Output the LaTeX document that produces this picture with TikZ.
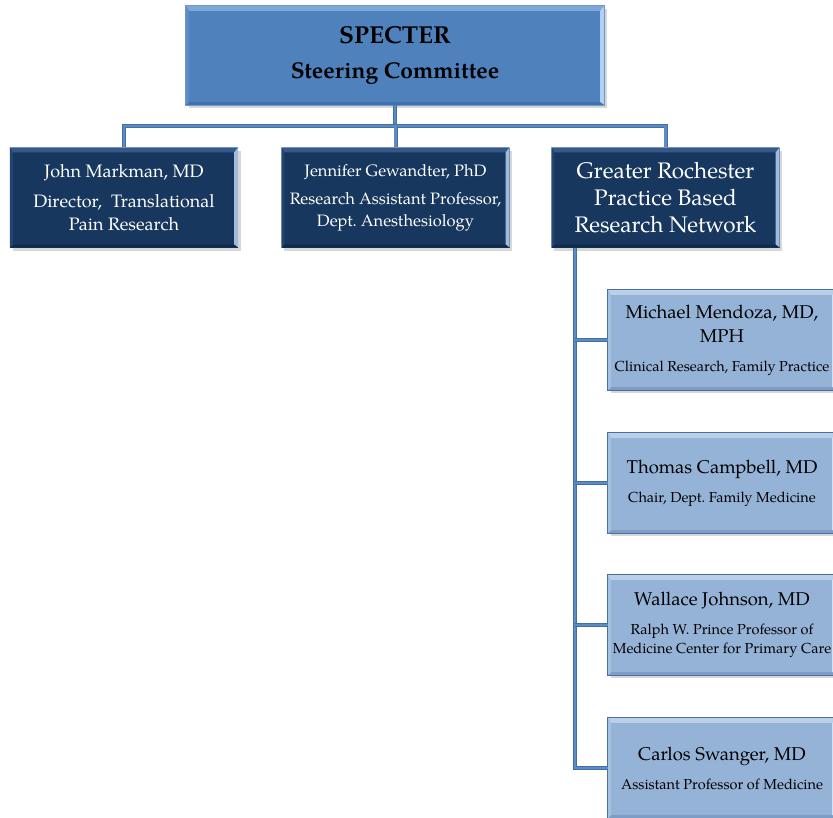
\documentclass[tikz,border=0pt]{standalone}
\usepackage{fontspec}
\setmainfont{TeX Gyre Pagella}
\usetikzlibrary{calc,shadows}
\frenchspacing
\definecolor{topbase}{HTML}{4F81BD}
\definecolor{toptop}{HTML}{7EA7D9}
\definecolor{topright}{HTML}{B3D0F2}
\definecolor{topbot}{HTML}{4272AE}
\definecolor{topleft}{HTML}{5D8DC8}
\definecolor{topedge}{HTML}{6E98CC}
\definecolor{darkbase}{HTML}{17375E}
\definecolor{darktop}{HTML}{34598A}
\definecolor{darkright}{HTML}{9FBCE0}
\definecolor{darkbot}{HTML}{102A4A}
\definecolor{darkleft}{HTML}{22466F}
\definecolor{lightbase}{HTML}{95B3D7}
\definecolor{lighttop}{HTML}{BACFE8}
\definecolor{lightright}{HTML}{D3E1F2}
\definecolor{lightbot}{HTML}{7E9DC6}
\definecolor{lightleft}{HTML}{A6C0DF}
\definecolor{lightedge}{HTML}{4A6FA0}
\definecolor{connfill}{HTML}{5B8CC8}
\definecolor{connedge}{HTML}{41709F}
% #1 node, #2 top col, #3 right col, #4 bottom col, #5 left col, #6 top w, #7 right w, #8 bottom w, #9 left w
\newcommand\bev[9]{%
  \fill[#2] (#1.north west) -- (#1.north east) -- ($(#1.north east)+(-#7,#6)$) -- ($(#1.north west)+(#9,#6)$) -- cycle;
  \fill[#3] (#1.north east) -- (#1.south east) -- ($(#1.south east)+(-#7,-#8)$) -- ($(#1.north east)+(-#7,#6)$) -- cycle;
  \fill[#4] (#1.south east) -- (#1.south west) -- ($(#1.south west)+(#9,-#8)$) -- ($(#1.south east)+(-#7,-#8)$) -- cycle;
  \fill[#5] (#1.south west) -- (#1.north west) -- ($(#1.north west)+(#9,#6)$) -- ($(#1.south west)+(#9,-#8)$) -- cycle;
}
\newcommand\subfont{\fontsize{14.5}{19}\selectfont}
\tikzset{
  box/.style={minimum width=228pt, minimum height=100pt, inner sep=0pt, align=center,
    drop shadow={shadow xshift=2.5pt, shadow yshift=-3pt, opacity=.22, fill=black!70}},
  topbox/.style={box, minimum width=418pt, minimum height=99pt, fill=topbase, text=black},
  darkbox/.style={box, fill=darkbase, text=white},
  lightbox/.style={box, fill=lightbase, text=black, font={\fontsize{18.5}{24}\selectfont}},
  conn/.style={draw=connedge, double=connfill, double distance=2.4pt, line width=0.8pt},
  edge/.style={draw=#1, line width=0.7pt}
}
\begin{document}
\begin{tikzpicture}[x=1pt,y=-1pt]
\useasboundingbox (0,0) rectangle (833,817);
\clip (0,0) rectangle (833,817);
\fill[white] (0,0) rectangle (833,817);

\coordinate (bus) at (395,126);
\coordinate (sp) at (575,0);

\node[topbox, font={\fontsize{22.8}{35}\selectfont\bfseries}] (top) at (395,55.5) {{\fontsize{24.5}{35}\selectfont SPECTER}\\Steering Committee};
\node[darkbox, font={\fontsize{18}{23}\selectfont}] (john) at (124,197.5) {John Markman, MD\\[7pt]Director,\ \ Translational\\Pain Research};
\node[darkbox, font={\fontsize{16.5}{22}\selectfont}] (jen) at (395.5,197.5) {Jennifer Gewandter, PhD\\[6pt]Research Assistant Professor,\\Dept. Anesthesiology};
\node[darkbox, font={\fontsize{22.5}{27}\selectfont}] (grp) at (665.5,197.5) {Greater Rochester\\Practice Based\\Research Network};
\node[lightbox] (mich) at (722,340) {Michael Mendoza, MD,\\MPH\\[5pt]{\subfont Clinical Research, Family Practice}};
\node[lightbox] (thom) at (722,483) {Thomas Campbell, MD\\[5pt]{\subfont Chair, Dept. Family Medicine}};
\node[lightbox] (wall) at (722,625) {Wallace Johnson, MD\\[5pt]{\subfont Ralph W. Prince Professor of}\\[-5pt]{\subfont Medicine Center for Primary Care}};
\node[lightbox] (carl) at (722,768) {Carlos Swanger, MD\\[5pt]{\subfont Assistant Professor of Medicine}};

\bev{top}{toptop}{topright}{topbot}{topleft}{5}{4}{3}{3}
\bev{john}{darktop}{darkright}{darkbot}{darkleft}{5}{4}{3}{3}
\bev{jen}{darktop}{darkright}{darkbot}{darkleft}{5}{4}{3}{3}
\bev{grp}{darktop}{darkright}{darkbot}{darkleft}{5}{4}{3}{3}
\foreach \n in {mich,thom,wall,carl}{\bev{\n}{lighttop}{lightright}{lightbot}{lightleft}{5}{4}{3}{3}}
\draw[edge=topedge] (top.north west) rectangle (top.south east);
\foreach \n in {mich,thom,wall,carl}{\draw[edge=lightedge] (\n.north west) rectangle (\n.south east);}

\draw[conn] (top.south) -- (top.south |- bus);
\draw[conn] (john.north) |- (grp.north |- bus) -- (grp.north);
\draw[conn] (jen.north) -- (jen.north |- bus);
\draw[conn] (sp |- grp.south) |- (carl.west);
\draw[conn] (sp |- mich.west) -- (mich.west);
\draw[conn] (sp |- thom.west) -- (thom.west);
\draw[conn] (sp |- wall.west) -- (wall.west);
\end{tikzpicture}
\end{document}
